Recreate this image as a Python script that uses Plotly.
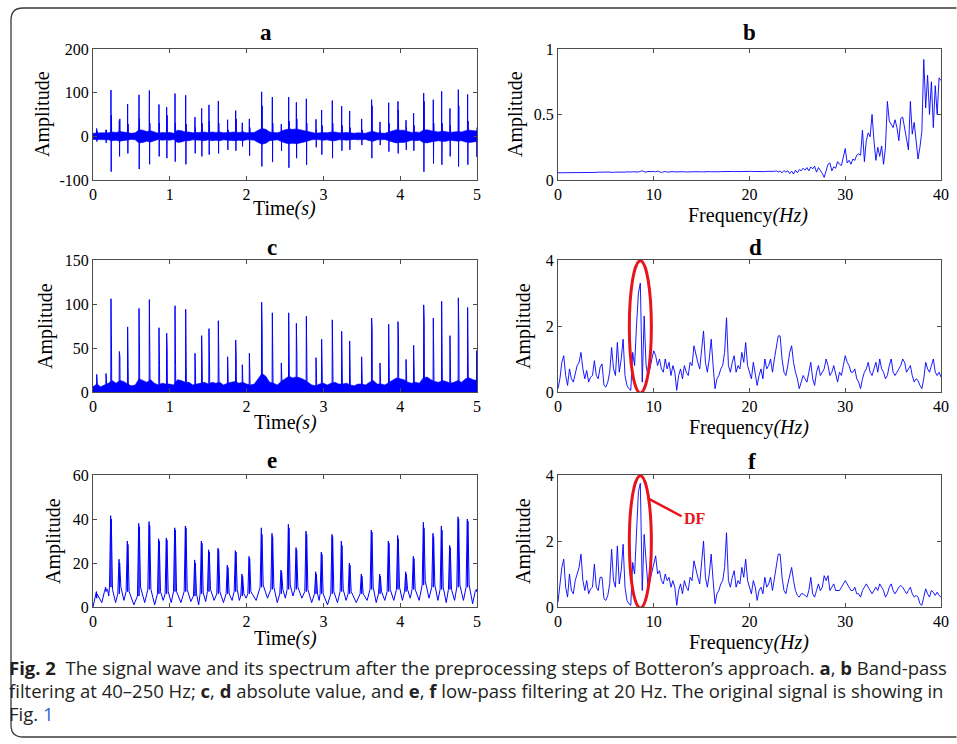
import plotly.graph_objects as go

# ---------------- data ----------------
spike_t = [0.048, 0.169, 0.234, 0.343, 0.451, 0.599, 0.734, 0.859, 0.959, 1.068,
           1.207, 1.328, 1.415, 1.510, 1.632, 1.753, 1.858, 1.944, 2.036, 2.196,
           2.335, 2.452, 2.548, 2.648, 2.778, 2.904, 2.977, 3.116, 3.238, 3.342,
           3.498, 3.628, 3.737, 3.850, 3.971, 4.076, 4.175, 4.306, 4.431, 4.540,
           4.648, 4.757, 4.878, 4.996]
a_up = [18, 15, 106, 36, 74, 95, 105, 73, 67, 98,
        94, 44, 64, 72, 81, 38, 59, 31, 40, 102,
        90, 28, 90, 78, 86, 39, 60, 82, 69, 58,
        40, 84, 33, 77, 80, 37, 53, 99, 84, 103,
        64, 107, 96, 10]
a_down = [-12, -15, -81, -46, -39, -75, -64, -46, -50, -58,
          -64, -39, -46, -42, -39, -31, -33, -23, -44, -69,
          -59, -33, -72, -50, -65, -25, -42, -50, -33, -31,
          -20, -50, -20, -35, -39, -31, -33, -81, -62, -65,
          -46, -69, -65, -47]
second_spike = [12, 14, 48, 40, 28, 40, 30, 30, 48, 30,
                28, 20, 30, 35, 30, 15, 40, 12, 20, 70,
                30, 15, 35, 40, 30, 15, 25, 30, 25, 20,
                15, 70, 12, 30, 60, 20, 25, 80, 30, 30,
                25, 70, 35, 20]
c_peak = [20, 21, 106, 46, 74, 95, 105, 73, 67, 98,
          94, 44, 64, 72, 81, 40, 59, 31, 44, 102,
          90, 33, 90, 78, 86, 39, 60, 82, 69, 58,
          40, 84, 33, 77, 80, 37, 53, 99, 84, 103,
          64, 107, 96, 47]
band_step = 0.05
a_band = [7, 8, 8, 8, 8, 10, 9, 11, 10, 8,
          7, 8, 15, 14, 11, 13, 10, 7, 9, 8,
          9, 7, 14, 13, 10, 10, 8, 9, 9, 10,
          8, 10, 9, 10, 8, 9, 10, 10, 9, 10,
          8, 8, 9, 14, 18, 16, 10, 9, 8, 11,
          15, 17, 16, 17, 15, 13, 11, 8, 7, 8,
          9, 8, 10, 10, 8, 8, 9, 8, 7, 8,
          8, 7, 10, 11, 8, 8, 7, 10, 13, 15,
          14, 14, 11, 9, 10, 9, 14, 15, 13, 11,
          10, 12, 11, 9, 10, 11, 10, 13, 14, 13,
          12]
c_band = [6, 9, 6, 8, 10, 13, 10, 13, 12, 9,
          7, 8, 15, 13, 11, 14, 10, 8, 10, 9,
          9, 8, 14, 13, 11, 11, 8, 9, 10, 11,
          9, 11, 10, 11, 8, 10, 11, 12, 10, 11,
          9, 8, 9, 15, 21, 18, 11, 10, 8, 12,
          15, 18, 16, 17, 16, 14, 11, 8, 7, 9,
          10, 8, 10, 11, 9, 9, 10, 8, 7, 9,
          9, 8, 11, 13, 9, 9, 8, 11, 14, 16,
          15, 14, 11, 10, 11, 10, 16, 17, 14, 12,
          11, 13, 12, 10, 11, 13, 11, 15, 16, 14,
          13]
e_start = 0
e_pre = [4, 7, 9, 6, 7, 5, 8, 6, 6, 7,
         7, 5, 6, 7, 6, 6, 7, 5, 6, 9,
         8, 6, 8, 8, 7, 6, 6, 6, 7, 6,
         6, 8, 6, 7, 8, 7, 8, 10, 9, 8,
         8, 9, 9, 7]
e_peak = [7, 9, 41.5, 21.7, 30, 38, 38.8, 31, 31.4, 36,
          36.8, 21.4, 30, 26, 26.7, 19, 25.6, 15, 23, 36,
          33.5, 16.8, 37.6, 27, 34.5, 16, 25, 33, 30, 20,
          15, 35, 15, 30, 32.5, 16, 23, 38.5, 33.5, 36.8,
          28, 41, 40, 8]
e_second = [6, 8, 40, 20, 28.5, 36.5, 37, 30, 30.5, 35,
            36, 20, 29, 25, 26, 18, 25, 14, 22, 33,
            32, 16, 36, 26, 33, 15, 24, 32, 28, 19,
            14, 34, 14, 29, 31, 15, 22, 36, 32, 35,
            27, 40, 39, 7]
e_after = [5, 8, 8, 9, 7, 9, 8, 7, 7, 7,
           8, 6, 6.5, 8, 7, 6, 8, 6, 7, 10,
           9, 8, 10, 9, 8, 6, 6, 7, 8, 7,
           6, 9, 7, 8, 9, 8, 8, 12, 10, 9,
           8, 10, 10, 8]
e_valley = [2, 5, 2, 3, 1, 2, 1, 3, 2, 2,
            2.5, 1, 2.5, 3, 2, 3, 3, 4, 3, 4,
            2, 4, 5, 4, 2, 3, 1, 2, 3, 2,
            3, 2, 3, 3, 3, 4, 3, 4, 3, 2,
            3, 3, 1.5, 1]

freq_step = 0.2
b_amp = [0.055, 0.055, 0.054, 0.056, 0.055, 0.057, 0.056, 0.058, 0.055, 0.057,
         0.058, 0.056, 0.057, 0.059, 0.056, 0.058, 0.055, 0.057, 0.058, 0.056,
         0.058, 0.060, 0.059, 0.061, 0.058, 0.060, 0.061, 0.059, 0.060, 0.058,
         0.060, 0.059, 0.061, 0.058, 0.057, 0.060, 0.062, 0.060, 0.061, 0.063,
         0.062, 0.064, 0.061, 0.066, 0.070, 0.063, 0.060, 0.065, 0.062, 0.064,
         0.066, 0.062, 0.068, 0.063, 0.057, 0.062, 0.065, 0.060, 0.063, 0.061,
         0.064, 0.062, 0.063, 0.065, 0.062, 0.064, 0.063, 0.061, 0.064, 0.062,
         0.063, 0.064, 0.062, 0.063, 0.064, 0.063, 0.062, 0.064, 0.063, 0.064,
         0.063, 0.062, 0.064, 0.065, 0.063, 0.064, 0.065, 0.064, 0.063, 0.065,
         0.064, 0.065, 0.064, 0.066, 0.065, 0.064, 0.065, 0.066, 0.065, 0.064,
         0.065, 0.066, 0.065, 0.064, 0.066, 0.065, 0.066, 0.065, 0.064, 0.066,
         0.065, 0.066, 0.064, 0.066, 0.070, 0.062, 0.068, 0.055, 0.072, 0.060,
         0.070, 0.050, 0.068, 0.045, 0.075, 0.055, 0.080, 0.070, 0.090, 0.075,
         0.095, 0.070, 0.100, 0.085, 0.105, 0.060, 0.095, 0.075, 0.050, 0.020,
         0.080, 0.120, 0.130, 0.070, 0.100, 0.090, 0.140, 0.120, 0.110, 0.180,
         0.240, 0.130, 0.150, 0.120, 0.160, 0.150, 0.190, 0.200, 0.190, 0.380,
         0.140, 0.300, 0.360, 0.330, 0.500, 0.300, 0.150, 0.250, 0.180, 0.260,
         0.120, 0.250, 0.600, 0.450, 0.420, 0.400, 0.460, 0.400, 0.300, 0.470,
         0.480, 0.400, 0.330, 0.230, 0.600, 0.350, 0.440, 0.300, 0.160, 0.250,
         0.370, 0.920, 0.550, 0.800, 0.500, 0.750, 0.400, 0.720, 0.500, 0.780,
         0.760]
d_amp = [0.1, 0.4, 0.9, 1.1, 0.5, 0.2, 0.7, 0.4, 0.3, 0.6,
         0.8, 0.9, 1.2, 0.7, 0.4, 0.65, 0.3, 0.45, 0.5, 0.95,
         0.5, 0.4, 0.75, 0.85, 0.2, 0.15, 0.3, 0.6, 1.35, 0.7,
         0.5, 1.5, 0.6, 1.0, 1.6, 0.5, 0.2, 0.1, 0.05, 1.2,
         0.8, 2.0, 3.0, 3.3, 0.3, 2.3, 0.8, 0.5, 0.7, 1.0,
         1.25, 1.1, 0.8, 1.0, 0.7, 0.6, 1.0, 0.7, 0.9, 0.5,
         0.8, 0.6, 0.05, 0.5, 0.7, 0.4, 0.8, 0.6, 0.5, 0.9,
         0.8, 1.4, 1.1, 0.9, 0.7, 1.2, 1.85, 0.9, 0.6, 1.0,
         1.6, 0.8, 0.1, 0.4, 0.5, 0.7, 0.8, 1.2, 2.25, 0.8,
         0.6, 0.9, 1.1, 0.6, 0.8, 0.7, 1.2, 0.9, 1.5, 0.8,
         0.6, 0.4, 0.9, 0.6, 0.2, 0.5, 0.7, 0.4, 1.0, 0.7,
         0.8, 1.0, 0.6, 1.0, 1.3, 1.7, 1.7, 1.0, 0.6, 0.5,
         0.8, 1.2, 1.4, 0.9, 0.6, 0.4, 0.1, 0.3, 0.5, 0.4,
         0.3, 0.6, 0.9, 0.4, 0.2, 0.6, 0.8, 0.5, 0.6, 0.7,
         1.0, 0.8, 0.5, 0.6, 0.8, 0.5, 0.3, 0.6, 0.5, 0.8,
         1.1, 0.9, 0.8, 0.6, 0.6, 0.7, 0.4, 0.3, 0.1, 0.4,
         0.6, 0.7, 0.9, 0.6, 0.5, 0.7, 0.9, 0.6, 1.0, 0.7,
         0.6, 0.4, 0.5, 0.8, 1.0, 0.6, 0.5, 0.6, 0.7, 0.8,
         1.0, 0.9, 0.6, 0.7, 0.8, 0.5, 0.3, 0.4, 0.35, 0.2,
         0.1, 0.4, 0.9, 0.7, 0.6, 0.8, 1.0, 0.6, 0.5, 0.6,
         0.45]
f_amp = [0.15, 0.6, 1.2, 1.45, 0.6, 0.3, 1.0, 0.5, 0.4, 0.8,
         1.0, 1.2, 1.6, 0.8, 0.5, 0.8, 0.4, 0.55, 0.6, 1.3,
         0.6, 0.5, 0.9, 0.9, 0.25, 0.2, 0.35, 0.7, 1.75, 0.8,
         0.6, 1.85, 0.7, 1.1, 1.9, 0.6, 0.2, 0.1, 0.05, 1.35,
         1.0, 2.5, 3.5, 3.75, 0.5, 2.2, 1.3, 0.6, 0.8, 1.1,
         1.3, 1.55, 1.0, 1.1, 0.8, 0.7, 1.0, 0.8, 0.9, 0.6,
         0.8, 0.6, 0.05, 0.5, 0.7, 0.4, 0.8, 0.6, 0.5, 0.9,
         0.8, 1.4, 1.1, 0.9, 0.7, 1.3, 2.0, 0.9, 0.6, 1.0,
         1.6, 0.8, 0.1, 0.4, 0.5, 0.7, 0.8, 1.2, 2.25, 0.8,
         0.6, 0.9, 1.1, 0.6, 0.8, 0.7, 1.2, 0.9, 1.45, 0.8,
         0.6, 0.4, 0.8, 0.6, 0.2, 0.5, 0.6, 0.4, 0.9, 0.6,
         0.7, 0.9, 0.5, 0.9, 1.2, 1.6, 1.6, 0.9, 0.5, 0.4,
         0.7, 1.0, 1.2, 0.8, 0.5, 0.35, 0.3, 0.4, 0.4, 0.35,
         0.3, 0.5, 0.9, 0.4, 0.3, 0.5, 0.7, 0.5, 0.6, 0.95,
         0.8, 0.95, 0.5, 0.6, 0.7, 0.5, 0.5, 0.5, 0.6, 0.7,
         0.8, 0.7, 0.6, 0.5, 0.5, 0.6, 0.4, 0.4, 0.3, 0.5,
         0.6, 0.7, 0.6, 0.5, 0.4, 0.5, 0.6, 0.5, 0.7, 0.6,
         0.5, 0.3, 0.4, 0.6, 0.7, 0.5, 0.4, 0.5, 0.6, 0.65,
         0.6, 0.5, 0.4, 0.5, 0.6, 0.4, 0.3, 0.35, 0.3, 0.1,
         0.05, 0.3, 0.55, 0.4, 0.3, 0.5, 0.45, 0.35, 0.45, 0.35,
         0.3]

x_ticks_time = [0, 1, 2, 3, 4, 5]
x_ticks_freq = [0, 10, 20, 30, 40]
panel_titles = ["a", "b", "c", "d", "e", "f"]

# ---------------- layout helpers ----------------
W, H = 957, 744
BLUE = "#0000ff"
SERIF = "Liberation Serif, Times New Roman, serif"


def xd(x0, x1):
    return [x0 / W, x1 / W]


def yd(top, bottom):
    return [1 - bottom / H, 1 - top / H]


def px(x, y):
    return x / W, 1 - y / H


boxes = {1: (93, 477, 49, 180), 2: (558, 941, 49, 180),
         3: (93, 477, 260, 392), 4: (558, 941, 260, 392),
         5: (93, 477, 475, 607), 6: (558, 941, 475, 607)}

n = len(spike_t)
gaps = [(spike_t[i + 1] - spike_t[i]) if i + 1 < n else 0.06 for i in range(n)]
band_t = [round(i * band_step, 3) for i in range(len(a_band))]

# ---- panel a: noise band + spikes ----
band_x_full = band_t + band_t[::-1]
band_y_full = a_band + [-v for v in a_band[::-1]]

sx, sy = [], []
for i, t in enumerate(spike_t):
    sx += [t - 0.003, t, t + 0.003, t + 0.006, t + 0.009, None]
    sy += [0, a_up[i], a_down[i], second_spike[i], 0, None]

# ---- panel c ----
cx, cy = [], []
for i, t in enumerate(spike_t):
    cx += [t - 0.003, t, t + 0.003, t + 0.007, t + 0.01, None]
    cy += [0, c_peak[i], 0, second_spike[i], 0, None]

# ---- panel e ----
ex, ey = [0.0], [e_start]
for i, t in enumerate(spike_t):
    ex += [t - 0.02, t - 0.004, t, t + 0.004, t + 0.02]
    ey += [e_pre[i], e_peak[i], e_pre[i], e_second[i], e_after[i]]
    if i + 1 < n:
        ex.append(t + 0.55 * gaps[i])
        ey.append(e_valley[i])

freqs = [round(i * freq_step, 2) for i in range(len(d_amp))]

fig = go.Figure()
line_kw = dict(mode="lines", hoverinfo="skip", showlegend=False)

fig.add_trace(go.Scatter(x=band_x_full, y=band_y_full, fill="toself", fillcolor=BLUE,
                         line=dict(color=BLUE, width=0.6), xaxis="x", yaxis="y", **line_kw))
fig.add_trace(go.Scatter(x=sx, y=sy, line=dict(color=BLUE, width=1), xaxis="x", yaxis="y", **line_kw))
fig.add_trace(go.Scatter(x=freqs, y=b_amp, line=dict(color=BLUE, width=0.9), xaxis="x2", yaxis="y2", **line_kw))
fig.add_trace(go.Scatter(x=band_t, y=c_band, fill="tozeroy", fillcolor=BLUE,
                         line=dict(color=BLUE, width=0.6), xaxis="x3", yaxis="y3", **line_kw))
fig.add_trace(go.Scatter(x=cx, y=cy, line=dict(color=BLUE, width=1), xaxis="x3", yaxis="y3", **line_kw))
fig.add_trace(go.Scatter(x=freqs, y=d_amp, line=dict(color=BLUE, width=0.9), xaxis="x4", yaxis="y4", **line_kw))
fig.add_trace(go.Scatter(x=ex, y=ey, line=dict(color=BLUE, width=1), xaxis="x5", yaxis="y5", **line_kw))
fig.add_trace(go.Scatter(x=freqs, y=f_amp, line=dict(color=BLUE, width=0.9), xaxis="x6", yaxis="y6", **line_kw))

axis_common = dict(showline=True, mirror="ticks", linecolor="#4d4d4d", linewidth=1,
                   ticks="inside", ticklen=4, tickcolor="#4d4d4d", showgrid=False,
                   zeroline=False, fixedrange=True, automargin=False,
                   tickfont=dict(family=SERIF, size=16, color="black"))

yranges = {1: ([-100, 200], [-100, 0, 100, 200], ["-100", "0", "100", "200"]),
           2: ([0, 1], [0, 0.5, 1], ["0", "0.5", "1"]),
           3: ([0, 150], [0, 50, 100, 150], ["0", "50", "100", "150"]),
           4: ([0, 4], [0, 2, 4], ["0", "2", "4"]),
           5: ([0, 60], [0, 20, 40, 60], ["0", "20", "40", "60"]),
           6: ([0, 4], [0, 2, 4], ["0", "2", "4"])}

layout = dict(width=W, height=H, autosize=False,
              margin=dict(l=0, r=0, t=0, b=0, pad=0, autoexpand=False),
              paper_bgcolor="white", plot_bgcolor="white", showlegend=False,
              hovermode=False)
for k, (x0, x1, y0, y1) in boxes.items():
    sfx = "" if k == 1 else str(k)
    is_time = k in (1, 3, 5)
    xt = x_ticks_time if is_time else x_ticks_freq
    layout["xaxis" + sfx] = dict(domain=xd(x0, x1), anchor="y" + sfx,
                                 range=[0, 5] if is_time else [0, 40],
                                 tickvals=xt, ticktext=[str(v) for v in xt], **axis_common)
    yr, yt, ytt = yranges[k]
    layout["yaxis" + sfx] = dict(domain=yd(y0, y1), anchor="x" + sfx, range=yr,
                                 tickvals=yt, ticktext=ytt, **axis_common)
fig.update_layout(**layout)

ann = []
common_ann = dict(xref="paper", yref="paper", showarrow=False, yanchor="middle")
title_pos = {1: (266, 33), 2: (749, 33), 3: (272, 247), 4: (755, 248), 5: (272, 460), 6: (752, 461)}
for k, (x, y) in title_pos.items():
    X, Y = px(x, y)
    ann.append(dict(text="<b>%s</b>" % panel_titles[k - 1], x=X, y=Y, xanchor="center",
                    font=dict(family=SERIF, size=23, color="black"), **common_ann))
ylab_pos = {1: (43, 114), 2: (516, 114), 3: (45, 326), 4: (523, 326), 5: (53, 541), 6: (523, 541)}
for k, (x, y) in ylab_pos.items():
    X, Y = px(x, y)
    ann.append(dict(text="Amplitude", x=X, y=Y, textangle=-90, xanchor="center",
                    font=dict(family=SERIF, size=20, color="black"), **common_ann))
xlab_pos = {1: (284, 209), 2: (748, 216), 3: (285, 422), 4: (749, 427), 5: (285, 638), 6: (749, 642)}
for k, (x, y) in xlab_pos.items():
    X, Y = px(x, y)
    txt = "Time<i>(s)</i>" if k in (1, 3, 5) else "Frequency<i>(Hz)</i>"
    ann.append(dict(text=txt, x=X, y=Y, xanchor="center",
                    font=dict(family=SERIF, size=20, color="black"), **common_ann))

# DF label
ann.append(dict(text="<b>DF</b>", x=13.0, y=2.68, xref="x6", yref="y6", xanchor="left",
                yanchor="middle", showarrow=False,
                font=dict(family=SERIF, size=16, color="#e8141c")))

# caption
CAP = "Open Sans, sans-serif"
cap_lines = [
    ("<b>Fig. 2</b>\u00a0\u00a0The signal wave and its spectrum after the preprocessing steps of "
     "Botteron\u2019s approach. <b>a</b>, <b>b</b> Band-pass", 667),
    ("filtering at 40\u2013250 Hz; <b>c</b>, <b>d</b> absolute value, and <b>e</b>, <b>f</b> "
     "low-pass filtering at 20 Hz. The original signal is showing in", 690),
    ("Fig. <span style='color:#3366cc'>1</span>", 713),
]
for txt, y in cap_lines:
    X, Y = px(7, y)
    ann.append(dict(text=txt, x=X, y=Y, xanchor="left", align="left",
                    font=dict(family=CAP, size=18.5, color="#231f20"), **common_ann))
fig.update_layout(annotations=ann)

shapes = []
for ax in ("4", "6"):
    shapes.append(dict(type="circle", xref="x" + ax, yref="y" + ax, x0=7.45, x1=9.75,
                       y0=-0.03, y1=3.98, line=dict(color="#e8141c", width=3)))
shapes.append(dict(type="line", xref="x6", yref="y6", x0=9.35, y0=3.3, x1=12.9, y1=2.75,
                   line=dict(color="#e8141c", width=2.5)))


def P(x, y):
    X, Y = px(x, y)
    return "%.5f,%.5f" % (X, Y)


border = ("M %s L %s Q %s %s L %s Q %s %s L %s" %
          (P(956.5, 8), P(23, 8), P(11, 8), P(11, 20), P(11, 725), P(11, 737), P(23, 737), P(956.5, 737)))
shapes.append(dict(type="path", xref="paper", yref="paper", path=border,
                   line=dict(color="#3a3a3a", width=1.3)))
fig.update_layout(shapes=shapes)

fig.write_html("out.html", config={"responsive": False, "displayModeBar": False},
               post_script="document.body.style.margin='0';document.body.style.overflow='hidden';")
